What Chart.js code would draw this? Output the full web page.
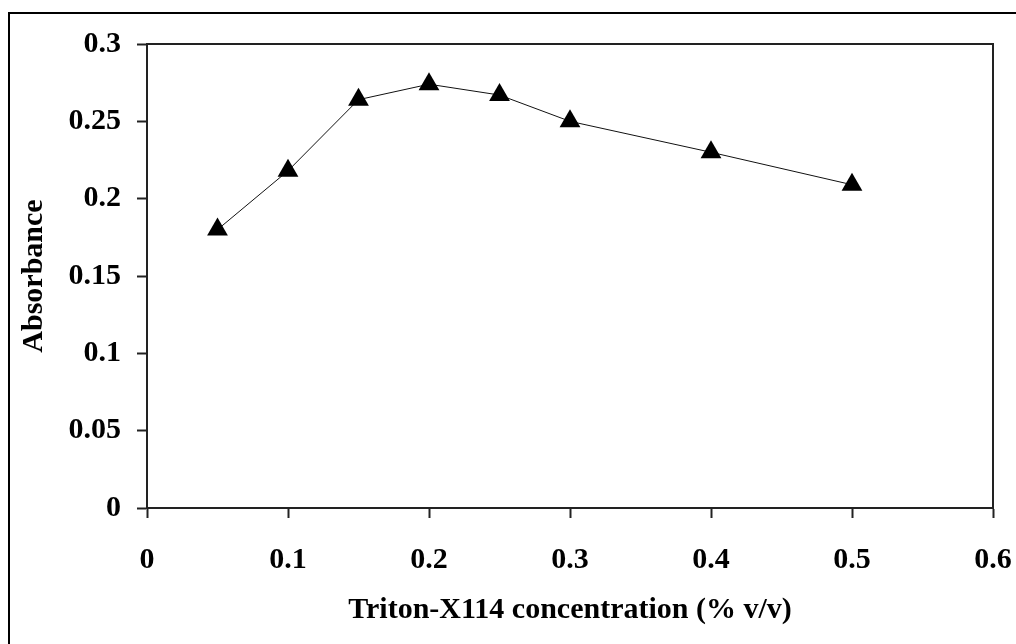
<!DOCTYPE html>
<html lang="en">
  <head>
    <meta charset="UTF-8" />
    <title>Absorbance vs Triton-X114</title>
    <script src="https://cdn.jsdelivr.net/npm/chart.js"></script>
    <style>
      html, body { margin: 0; padding: 0; background: #fff; }
      #wrap { width: 1016px; height: 644px; position: relative; }
    </style>
  </head>
  <body>
    <div id="wrap"><canvas id="absChart" width="1016" height="644"></canvas></div>
    <script>
      // Triton-X114 concentration (% v/v)
      const concentration = [0.05, 0.1, 0.15, 0.2, 0.25, 0.3, 0.4, 0.5];
      // Absorbance readings
      const absorbance = [0.18, 0.218, 0.264, 0.274, 0.267, 0.25, 0.23, 0.209];
      const xTicks = [0, 0.1, 0.2, 0.3, 0.4, 0.5, 0.6];
      const yTicks = [0, 0.05, 0.1, 0.15, 0.2, 0.25, 0.3];

      const font = { family: "'Liberation Serif', 'Times New Roman', serif", size: 30, weight: "bold" };

      // outer frame and plot box
      const frame = {
        id: "frame",
        afterDraw(chart) {
          const { ctx, chartArea: a } = chart;
          ctx.save();
          ctx.strokeStyle = "#000";
          ctx.lineWidth = 2;
          ctx.beginPath();
          ctx.moveTo(9, 644);
          ctx.lineTo(9, 13);
          ctx.lineTo(1016, 13);
          ctx.stroke();
          ctx.strokeStyle = "#222";
          ctx.lineWidth = 2;
          ctx.strokeRect(a.left, a.top, a.right - a.left, a.bottom - a.top);
          ctx.restore();
        },
      };

      new Chart(document.getElementById("absChart"), {
        type: "scatter",
        data: {
          datasets: [
            {
              data: concentration.map((x, i) => ({ x, y: absorbance[i] })),
              showLine: true,
              borderColor: "#111",
              borderWidth: 1,
              pointStyle: "triangle",
              pointRadius: 12,
              pointHoverRadius: 12,
              pointBackgroundColor: "#000",
              pointBorderColor: "#000",
              pointBorderWidth: 0,
            },
          ],
        },
        options: {
          responsive: false,
          animation: false,
          layout: { padding: { top: 44, right: 23, left: 0, bottom: 0 } },
          plugins: { legend: { display: false }, tooltip: { enabled: false } },
          scales: {
            x: {
              type: "linear",
              min: 0,
              max: 0.6,
              afterBuildTicks: (s) => { s.ticks = xTicks.map((v) => ({ value: v })); },
              afterFit: (s) => { s.height = 644 - 508; s.paddingLeft = 0; s.paddingRight = 0; },
              ticks: { font, color: "#000", padding: 24, maxRotation: 0, callback: (v) => String(v) },
              grid: { drawOnChartArea: false, tickLength: 10, tickWidth: 2, tickColor: "#222" },
              border: { color: "#222", width: 2 },
              title: { display: true, text: "Triton-X114 concentration (% v/v)", font, color: "#000", padding: { top: 0, bottom: 16 } },
            },
            y: {
              type: "linear",
              min: 0,
              max: 0.3,
              afterBuildTicks: (s) => { s.ticks = yTicks.map((v) => ({ value: v })); },
              afterFit: (s) => { s.width = 147; s.paddingTop = 0; s.paddingBottom = 0; },
              ticks: { font, color: "#000", padding: 16, callback: (v) => String(v) },
              grid: { drawOnChartArea: false, tickLength: 10, tickWidth: 2, tickColor: "#222" },
              border: { color: "#222", width: 2 },
              title: { display: true, text: "Absorbance", font, color: "#000", padding: { top: 16, bottom: 0 } },
            },
          },
        },
        plugins: [frame],
      });
    </script>
  </body>
</html>
